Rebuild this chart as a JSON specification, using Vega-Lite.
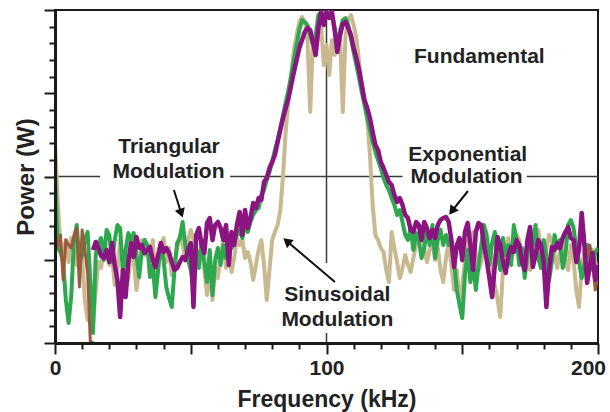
{
"$schema":"https://vega.github.io/schema/vega-lite/v6.json",
"width":543,"height":333,"autosize":"none",
"padding":{"left":55,"top":10,"right":12,"bottom":69},
"background":"white",
"config":{"view":{"stroke":"#1a1a1a","strokeWidth":2},"font":"Liberation Sans"},
"datasets":{
"spec":[
{"f":0,"s":"T","h":200},{"f":1,"s":"T","h":143},{"f":2,"s":"T","h":98},{"f":3,"s":"T","h":91},{"f":4,"s":"T","h":103},{"f":5,"s":"T","h":81},{"f":6,"s":"T","h":105},{"f":7,"s":"T","h":93},{"f":8,"s":"T","h":78},{"f":9,"s":"T","h":98},
{"f":10,"s":"T","h":85},{"f":11,"s":"T","h":43},{"f":12,"s":"T","h":23},{"f":13,"s":"T","h":33},{"f":14,"s":"T","h":18},{"f":15,"s":"T","h":53},{"f":16,"s":"T","h":81},{"f":17,"s":"T","h":75},{"f":18,"s":"T","h":98},{"f":19,"s":"T","h":93},
{"f":20,"s":"T","h":78},{"f":21,"s":"T","h":88},{"f":22,"s":"T","h":58},{"f":23,"s":"T","h":73},{"f":24,"s":"T","h":103},{"f":25,"s":"T","h":81},{"f":26,"s":"T","h":88},{"f":27,"s":"T","h":63},{"f":28,"s":"T","h":93},{"f":29,"s":"T","h":83},
{"f":30,"s":"T","h":53},{"f":31,"s":"T","h":73},{"f":32,"s":"T","h":103},{"f":33,"s":"T","h":88},{"f":34,"s":"T","h":98},{"f":35,"s":"T","h":81},{"f":36,"s":"T","h":103},{"f":37,"s":"T","h":65},{"f":38,"s":"T","h":83},{"f":39,"s":"T","h":93},
{"f":40,"s":"T","h":105},{"f":41,"s":"T","h":81},{"f":42,"s":"T","h":95},{"f":43,"s":"T","h":68},{"f":44,"s":"T","h":81},{"f":45,"s":"T","h":95},{"f":46,"s":"T","h":108},{"f":47,"s":"T","h":98},{"f":48,"s":"T","h":85},{"f":49,"s":"T","h":103},
{"f":50,"s":"T","h":113},{"f":51,"s":"T","h":103},{"f":52,"s":"T","h":75},{"f":53,"s":"T","h":88},{"f":54,"s":"T","h":98},{"f":55,"s":"T","h":73},{"f":56,"s":"T","h":48},{"f":57,"s":"T","h":78},{"f":58,"s":"T","h":43},{"f":59,"s":"T","h":75},
{"f":60,"s":"T","h":65},{"f":61,"s":"T","h":88},{"f":62,"s":"T","h":103},{"f":63,"s":"T","h":75},{"f":64,"s":"T","h":93},{"f":65,"s":"T","h":71},{"f":66,"s":"T","h":85},{"f":67,"s":"T","h":105},{"f":68,"s":"T","h":98},{"f":69,"s":"T","h":103},
{"f":70,"s":"T","h":85},{"f":71,"s":"T","h":91},{"f":72,"s":"T","h":81},{"f":73,"s":"T","h":63},{"f":74,"s":"T","h":78},{"f":75,"s":"T","h":93},{"f":76,"s":"T","h":103},{"f":77,"s":"T","h":78},{"f":78,"s":"T","h":43},{"f":79,"s":"T","h":73},
{"f":80,"s":"T","h":103},{"f":81,"s":"T","h":111},{"f":82,"s":"T","h":118},{"f":83,"s":"T","h":133},{"f":84,"s":"T","h":168},{"f":85,"s":"T","h":213},{"f":86,"s":"T","h":243},{"f":87,"s":"T","h":268},{"f":88,"s":"T","h":293},{"f":89,"s":"T","h":308},
{"f":90,"s":"T","h":321},{"f":91,"s":"T","h":326},{"f":92,"s":"T","h":321},{"f":93,"s":"T","h":303},{"f":94,"s":"T","h":231},{"f":95,"s":"T","h":303},{"f":96,"s":"T","h":288},{"f":97,"s":"T","h":308},{"f":98,"s":"T","h":318},{"f":99,"s":"T","h":278},
{"f":100,"s":"T","h":298},{"f":101,"s":"T","h":268},{"f":102,"s":"T","h":303},{"f":103,"s":"T","h":288},{"f":104,"s":"T","h":301},{"f":105,"s":"T","h":305},{"f":106,"s":"T","h":231},{"f":107,"s":"T","h":308},{"f":108,"s":"T","h":323},{"f":109,"s":"T","h":328},
{"f":110,"s":"T","h":318},{"f":111,"s":"T","h":305},{"f":112,"s":"T","h":281},{"f":113,"s":"T","h":258},{"f":114,"s":"T","h":243},{"f":115,"s":"T","h":225},{"f":116,"s":"T","h":188},{"f":117,"s":"T","h":138},{"f":118,"s":"T","h":108},{"f":119,"s":"T","h":103},
{"f":120,"s":"T","h":95},{"f":121,"s":"T","h":91},{"f":122,"s":"T","h":73},{"f":123,"s":"T","h":61},{"f":124,"s":"T","h":111},{"f":125,"s":"T","h":95},{"f":126,"s":"T","h":81},{"f":127,"s":"T","h":65},{"f":128,"s":"T","h":75},{"f":129,"s":"T","h":88},
{"f":130,"s":"T","h":78},{"f":131,"s":"T","h":71},{"f":132,"s":"T","h":85},{"f":133,"s":"T","h":98},{"f":134,"s":"T","h":108},{"f":135,"s":"T","h":115},{"f":136,"s":"T","h":95},{"f":137,"s":"T","h":81},{"f":138,"s":"T","h":93},{"f":139,"s":"T","h":103},
{"f":140,"s":"T","h":83},{"f":141,"s":"T","h":95},{"f":142,"s":"T","h":73},{"f":143,"s":"T","h":61},{"f":144,"s":"T","h":85},{"f":145,"s":"T","h":101},{"f":146,"s":"T","h":78},{"f":147,"s":"T","h":53},{"f":148,"s":"T","h":73},{"f":149,"s":"T","h":43},
{"f":150,"s":"T","h":58},{"f":151,"s":"T","h":83},{"f":152,"s":"T","h":103},{"f":153,"s":"T","h":93},{"f":154,"s":"T","h":111},{"f":155,"s":"T","h":88},{"f":156,"s":"T","h":73},{"f":157,"s":"T","h":81},{"f":158,"s":"T","h":103},{"f":159,"s":"T","h":93},
{"f":160,"s":"T","h":98},{"f":161,"s":"T","h":78},{"f":162,"s":"T","h":58},{"f":163,"s":"T","h":43},{"f":164,"s":"T","h":26},{"f":165,"s":"T","h":73},{"f":166,"s":"T","h":88},{"f":167,"s":"T","h":105},{"f":168,"s":"T","h":83},{"f":169,"s":"T","h":95},
{"f":170,"s":"T","h":108},{"f":171,"s":"T","h":103},{"f":172,"s":"T","h":81},{"f":173,"s":"T","h":88},{"f":174,"s":"T","h":98},{"f":175,"s":"T","h":73},{"f":176,"s":"T","h":85},{"f":177,"s":"T","h":101},{"f":178,"s":"T","h":113},{"f":179,"s":"T","h":93},
{"f":180,"s":"T","h":81},{"f":181,"s":"T","h":95},{"f":182,"s":"T","h":108},{"f":183,"s":"T","h":101},{"f":184,"s":"T","h":88},{"f":185,"s":"T","h":75},{"f":186,"s":"T","h":93},{"f":187,"s":"T","h":103},{"f":188,"s":"T","h":81},{"f":189,"s":"T","h":73},
{"f":190,"s":"T","h":98},{"f":191,"s":"T","h":83},{"f":192,"s":"T","h":53},{"f":193,"s":"T","h":36},{"f":194,"s":"T","h":75},{"f":195,"s":"T","h":93},{"f":196,"s":"T","h":78},{"f":197,"s":"T","h":85},{"f":198,"s":"T","h":93},{"f":199,"s":"T","h":81},
{"f":200,"s":"T","h":68},
{"f":0,"s":"G","h":171},{"f":1,"s":"G","h":95},{"f":2,"s":"G","h":91},{"f":3,"s":"G","h":81},{"f":4,"s":"G","h":43},{"f":5,"s":"G","h":20},{"f":6,"s":"G","h":48},{"f":7,"s":"G","h":103},{"f":8,"s":"G","h":118},{"f":9,"s":"G","h":81},
{"f":10,"s":"G","h":88},{"f":11,"s":"G","h":103},{"f":12,"s":"G","h":111},{"f":13,"s":"G","h":63},{"f":14,"s":"G","h":10},{"f":15,"s":"G","h":88},{"f":16,"s":"G","h":100},{"f":17,"s":"G","h":105},{"f":18,"s":"G","h":83},{"f":19,"s":"G","h":113},
{"f":20,"s":"G","h":108},{"f":21,"s":"G","h":81},{"f":22,"s":"G","h":103},{"f":23,"s":"G","h":118},{"f":24,"s":"G","h":115},{"f":25,"s":"G","h":70},{"f":26,"s":"G","h":93},{"f":27,"s":"G","h":110},{"f":28,"s":"G","h":103},{"f":29,"s":"G","h":110},
{"f":30,"s":"G","h":88},{"f":31,"s":"G","h":66},{"f":32,"s":"G","h":93},{"f":33,"s":"G","h":103},{"f":34,"s":"G","h":98},{"f":35,"s":"G","h":66},{"f":36,"s":"G","h":78},{"f":37,"s":"G","h":46},{"f":38,"s":"G","h":73},{"f":39,"s":"G","h":100},
{"f":40,"s":"G","h":83},{"f":41,"s":"G","h":56},{"f":42,"s":"G","h":45},{"f":43,"s":"G","h":36},{"f":44,"s":"G","h":73},{"f":45,"s":"G","h":100},{"f":46,"s":"G","h":105},{"f":47,"s":"G","h":121},{"f":48,"s":"G","h":98},{"f":49,"s":"G","h":83},
{"f":50,"s":"G","h":73},{"f":51,"s":"G","h":56},{"f":52,"s":"G","h":93},{"f":53,"s":"G","h":75},{"f":54,"s":"G","h":103},{"f":55,"s":"G","h":81},{"f":56,"s":"G","h":61},{"f":57,"s":"G","h":93},{"f":58,"s":"G","h":48},{"f":59,"s":"G","h":83},
{"f":60,"s":"G","h":95},{"f":61,"s":"G","h":78},{"f":62,"s":"G","h":98},{"f":63,"s":"G","h":85},{"f":64,"s":"G","h":105},{"f":65,"s":"G","h":95},{"f":66,"s":"G","h":103},{"f":67,"s":"G","h":108},{"f":68,"s":"G","h":113},{"f":69,"s":"G","h":105},
{"f":70,"s":"G","h":118},{"f":71,"s":"G","h":111},{"f":72,"s":"G","h":121},{"f":73,"s":"G","h":128},{"f":74,"s":"G","h":133},{"f":75,"s":"G","h":135},{"f":76,"s":"G","h":148},{"f":77,"s":"G","h":153},{"f":78,"s":"G","h":163},{"f":79,"s":"G","h":171},
{"f":80,"s":"G","h":181},{"f":81,"s":"G","h":193},{"f":82,"s":"G","h":203},{"f":83,"s":"G","h":215},{"f":84,"s":"G","h":228},{"f":85,"s":"G","h":241},{"f":86,"s":"G","h":253},{"f":87,"s":"G","h":268},{"f":88,"s":"G","h":283},{"f":89,"s":"G","h":298},
{"f":90,"s":"G","h":313},{"f":91,"s":"G","h":323},{"f":92,"s":"G","h":321},{"f":93,"s":"G","h":318},{"f":94,"s":"G","h":308},{"f":95,"s":"G","h":298},{"f":96,"s":"G","h":308},{"f":97,"s":"G","h":328},{"f":98,"s":"G","h":331},{"f":99,"s":"G","h":325},
{"f":100,"s":"G","h":333},{"f":101,"s":"G","h":328},{"f":102,"s":"G","h":329},{"f":103,"s":"G","h":315},{"f":104,"s":"G","h":295},{"f":105,"s":"G","h":313},{"f":106,"s":"G","h":323},{"f":107,"s":"G","h":325},{"f":108,"s":"G","h":318},{"f":109,"s":"G","h":305},
{"f":110,"s":"G","h":291},{"f":111,"s":"G","h":278},{"f":112,"s":"G","h":265},{"f":113,"s":"G","h":251},{"f":114,"s":"G","h":238},{"f":115,"s":"G","h":225},{"f":116,"s":"G","h":213},{"f":117,"s":"G","h":201},{"f":118,"s":"G","h":191},{"f":119,"s":"G","h":183},
{"f":120,"s":"G","h":175},{"f":121,"s":"G","h":165},{"f":122,"s":"G","h":158},{"f":123,"s":"G","h":153},{"f":124,"s":"G","h":145},{"f":125,"s":"G","h":138},{"f":126,"s":"G","h":128},{"f":127,"s":"G","h":133},{"f":128,"s":"G","h":121},{"f":129,"s":"G","h":108},
{"f":130,"s":"G","h":103},{"f":131,"s":"G","h":115},{"f":132,"s":"G","h":93},{"f":133,"s":"G","h":110},{"f":134,"s":"G","h":103},{"f":135,"s":"G","h":85},{"f":136,"s":"G","h":95},{"f":137,"s":"G","h":113},{"f":138,"s":"G","h":98},{"f":139,"s":"G","h":118},
{"f":140,"s":"G","h":85},{"f":141,"s":"G","h":103},{"f":142,"s":"G","h":113},{"f":143,"s":"G","h":98},{"f":144,"s":"G","h":108},{"f":145,"s":"G","h":98},{"f":146,"s":"G","h":103},{"f":147,"s":"G","h":81},{"f":148,"s":"G","h":53},{"f":149,"s":"G","h":38},
{"f":150,"s":"G","h":25},{"f":151,"s":"G","h":68},{"f":152,"s":"G","h":93},{"f":153,"s":"G","h":61},{"f":154,"s":"G","h":81},{"f":155,"s":"G","h":53},{"f":156,"s":"G","h":78},{"f":157,"s":"G","h":98},{"f":158,"s":"G","h":118},{"f":159,"s":"G","h":108},
{"f":160,"s":"G","h":78},{"f":161,"s":"G","h":100},{"f":162,"s":"G","h":111},{"f":163,"s":"G","h":88},{"f":164,"s":"G","h":73},{"f":165,"s":"G","h":105},{"f":166,"s":"G","h":88},{"f":167,"s":"G","h":98},{"f":168,"s":"G","h":78},{"f":169,"s":"G","h":118},
{"f":170,"s":"G","h":103},{"f":171,"s":"G","h":78},{"f":172,"s":"G","h":95},{"f":173,"s":"G","h":65},{"f":174,"s":"G","h":88},{"f":175,"s":"G","h":113},{"f":176,"s":"G","h":98},{"f":177,"s":"G","h":118},{"f":178,"s":"G","h":85},{"f":179,"s":"G","h":75},
{"f":180,"s":"G","h":103},{"f":181,"s":"G","h":88},{"f":182,"s":"G","h":63},{"f":183,"s":"G","h":81},{"f":184,"s":"G","h":108},{"f":185,"s":"G","h":95},{"f":186,"s":"G","h":103},{"f":187,"s":"G","h":75},{"f":188,"s":"G","h":88},{"f":189,"s":"G","h":118},
{"f":190,"s":"G","h":123},{"f":191,"s":"G","h":115},{"f":192,"s":"G","h":95},{"f":193,"s":"G","h":81},{"f":194,"s":"G","h":65},{"f":195,"s":"G","h":78},{"f":196,"s":"G","h":98},{"f":197,"s":"G","h":85},{"f":198,"s":"G","h":73},{"f":199,"s":"G","h":91},
{"f":200,"s":"G","h":95},
{"f":0,"s":"B","h":93},{"f":1,"s":"B","h":98},{"f":2,"s":"B","h":108},{"f":3,"s":"B","h":63},{"f":4,"s":"B","h":103},{"f":5,"s":"B","h":98},{"f":6,"s":"B","h":95},{"f":7,"s":"B","h":108},{"f":8,"s":"B","h":115},{"f":9,"s":"B","h":56},
{"f":10,"s":"B","h":113},{"f":11,"s":"B","h":93},{"f":12,"s":"B","h":70},{"f":13,"s":"B","h":2},{"f":14,"s":"B","h":0},
{"f":196,"s":"C","h":85},{"f":197,"s":"C","h":98},{"f":198,"s":"C","h":81},{"f":199,"s":"C","h":53},{"f":200,"s":"C","h":68},
{"f":14,"s":"P","h":93},{"f":15,"s":"P","h":101},{"f":16,"s":"P","h":95},{"f":17,"s":"P","h":87},{"f":18,"s":"P","h":85},{"f":19,"s":"P","h":93},{"f":20,"s":"P","h":81},{"f":21,"s":"P","h":100},{"f":22,"s":"P","h":78},{"f":23,"s":"P","h":63},
{"f":24,"s":"P","h":26},{"f":25,"s":"P","h":73},{"f":26,"s":"P","h":46},{"f":27,"s":"P","h":81},{"f":28,"s":"P","h":100},{"f":29,"s":"P","h":86},{"f":30,"s":"P","h":106},{"f":31,"s":"P","h":95},{"f":32,"s":"P","h":98},{"f":33,"s":"P","h":90},
{"f":34,"s":"P","h":93},{"f":35,"s":"P","h":96},{"f":36,"s":"P","h":83},{"f":37,"s":"P","h":76},{"f":38,"s":"P","h":88},{"f":39,"s":"P","h":100},{"f":40,"s":"P","h":91},{"f":41,"s":"P","h":95},{"f":42,"s":"P","h":90},{"f":43,"s":"P","h":81},
{"f":44,"s":"P","h":73},{"f":45,"s":"P","h":75},{"f":46,"s":"P","h":81},{"f":47,"s":"P","h":86},{"f":48,"s":"P","h":83},{"f":49,"s":"P","h":93},{"f":50,"s":"P","h":100},{"f":51,"s":"P","h":36},{"f":52,"s":"P","h":108},{"f":53,"s":"P","h":115},
{"f":54,"s":"P","h":98},{"f":55,"s":"P","h":90},{"f":56,"s":"P","h":120},{"f":57,"s":"P","h":125},{"f":58,"s":"P","h":103},{"f":59,"s":"P","h":118},{"f":60,"s":"P","h":121},{"f":61,"s":"P","h":115},{"f":62,"s":"P","h":103},{"f":63,"s":"P","h":118},
{"f":64,"s":"P","h":78},{"f":65,"s":"P","h":111},{"f":66,"s":"P","h":98},{"f":67,"s":"P","h":118},{"f":68,"s":"P","h":131},{"f":69,"s":"P","h":108},{"f":70,"s":"P","h":133},{"f":71,"s":"P","h":115},{"f":72,"s":"P","h":125},{"f":73,"s":"P","h":140},
{"f":74,"s":"P","h":135},{"f":75,"s":"P","h":145},{"f":76,"s":"P","h":143},{"f":77,"s":"P","h":161},{"f":78,"s":"P","h":165},{"f":79,"s":"P","h":175},{"f":80,"s":"P","h":181},{"f":81,"s":"P","h":188},{"f":82,"s":"P","h":201},{"f":83,"s":"P","h":213},
{"f":84,"s":"P","h":225},{"f":85,"s":"P","h":235},{"f":86,"s":"P","h":245},{"f":87,"s":"P","h":258},{"f":88,"s":"P","h":271},{"f":89,"s":"P","h":283},{"f":90,"s":"P","h":295},{"f":91,"s":"P","h":303},{"f":92,"s":"P","h":311},{"f":93,"s":"P","h":315},
{"f":94,"s":"P","h":313},{"f":95,"s":"P","h":301},{"f":96,"s":"P","h":288},{"f":97,"s":"P","h":315},{"f":98,"s":"P","h":331},{"f":99,"s":"P","h":318},{"f":100,"s":"P","h":331},{"f":101,"s":"P","h":325},{"f":102,"s":"P","h":331},{"f":103,"s":"P","h":313},
{"f":104,"s":"P","h":291},{"f":105,"s":"P","h":308},{"f":106,"s":"P","h":319},{"f":107,"s":"P","h":321},{"f":108,"s":"P","h":315},{"f":109,"s":"P","h":308},{"f":110,"s":"P","h":295},{"f":111,"s":"P","h":285},{"f":112,"s":"P","h":273},{"f":113,"s":"P","h":258},
{"f":114,"s":"P","h":243},{"f":115,"s":"P","h":235},{"f":116,"s":"P","h":225},{"f":117,"s":"P","h":211},{"f":118,"s":"P","h":198},{"f":119,"s":"P","h":193},{"f":120,"s":"P","h":181},{"f":121,"s":"P","h":175},{"f":122,"s":"P","h":168},{"f":123,"s":"P","h":161},
{"f":124,"s":"P","h":158},{"f":125,"s":"P","h":148},{"f":126,"s":"P","h":141},{"f":127,"s":"P","h":145},{"f":128,"s":"P","h":138},{"f":129,"s":"P","h":128},{"f":130,"s":"P","h":125},{"f":131,"s":"P","h":113},{"f":132,"s":"P","h":111},{"f":133,"s":"P","h":121},
{"f":134,"s":"P","h":118},{"f":135,"s":"P","h":103},{"f":136,"s":"P","h":121},{"f":137,"s":"P","h":115},{"f":138,"s":"P","h":105},{"f":139,"s":"P","h":113},{"f":140,"s":"P","h":105},{"f":141,"s":"P","h":118},{"f":142,"s":"P","h":123},{"f":143,"s":"P","h":125},
{"f":144,"s":"P","h":126},{"f":145,"s":"P","h":121},{"f":146,"s":"P","h":103},{"f":147,"s":"P","h":76},{"f":148,"s":"P","h":98},{"f":149,"s":"P","h":105},{"f":150,"s":"P","h":83},{"f":151,"s":"P","h":111},{"f":152,"s":"P","h":120},{"f":153,"s":"P","h":98},
{"f":154,"s":"P","h":73},{"f":155,"s":"P","h":111},{"f":156,"s":"P","h":120},{"f":157,"s":"P","h":118},{"f":158,"s":"P","h":98},{"f":159,"s":"P","h":83},{"f":160,"s":"P","h":65},{"f":161,"s":"P","h":46},{"f":162,"s":"P","h":78},{"f":163,"s":"P","h":106},
{"f":164,"s":"P","h":98},{"f":165,"s":"P","h":81},{"f":166,"s":"P","h":70},{"f":167,"s":"P","h":88},{"f":168,"s":"P","h":96},{"f":169,"s":"P","h":91},{"f":170,"s":"P","h":103},{"f":171,"s":"P","h":98},{"f":172,"s":"P","h":81},{"f":173,"s":"P","h":73},
{"f":174,"s":"P","h":103},{"f":175,"s":"P","h":116},{"f":176,"s":"P","h":76},{"f":177,"s":"P","h":88},{"f":178,"s":"P","h":103},{"f":179,"s":"P","h":98},{"f":180,"s":"P","h":81},{"f":181,"s":"P","h":36},{"f":182,"s":"P","h":73},{"f":183,"s":"P","h":96},
{"f":184,"s":"P","h":93},{"f":185,"s":"P","h":100},{"f":186,"s":"P","h":95},{"f":187,"s":"P","h":105},{"f":188,"s":"P","h":111},{"f":189,"s":"P","h":116},{"f":190,"s":"P","h":105},{"f":191,"s":"P","h":103},{"f":192,"s":"P","h":81},{"f":193,"s":"P","h":93},
{"f":194,"s":"P","h":130},{"f":195,"s":"P","h":98},{"f":196,"s":"P","h":60},{"f":197,"s":"P","h":78},{"f":198,"s":"P","h":90},{"f":199,"s":"P","h":63},{"f":200,"s":"P","h":78}
],
"seg":[
{"k":"g","f":0,"f2":16.6,"h":166.5,"h2":166.5},
{"k":"g","f":64.5,"f2":128,"h":166.5,"h2":166.5},
{"k":"g","f":173.8,"f2":200,"h":166.5,"h2":166.5},
{"k":"g","f":100,"f2":100,"h":80,"h2":333},
{"k":"g","f":100,"f2":100,"h":0,"h2":10},
{"k":"a","f":43.8,"f2":46.5,"h":153,"h2":129.7},
{"k":"a","f":103.1,"f2":85.4,"h":61,"h2":101.8},
{"k":"a","f":152.1,"f2":146.2,"h":152,"h2":132}
],
"heads":[
{"f":46.5,"h":129.7,"a":161},
{"f":85.4,"h":101.8,"a":310},
{"f":146.2,"h":132,"a":217}
],
"notes":[
{"f":156.3,"h":286,"t":"Fundamental"},
{"f":42,"h":196,"t":"Triangular"},
{"f":41.8,"h":171,"t":"Modulation"},
{"f":152,"h":188,"t":"Exponential"},
{"f":151.6,"h":166,"t":"Modulation"},
{"f":104,"h":48,"t":"Sinusoidal"},
{"f":104,"h":23,"t":"Modulation"}
]
},
"encoding":{
  "x":{"field":"f","type":"quantitative","scale":{"domain":[0,200],"nice":false},
   "axis":{"title":"Frequency (kHz)","values":[0,10,20,30,40,50,60,70,80,90,100,110,120,130,140,150,160,170,180,190,200],
    "labelExpr":"datum.value % 100 === 0 ? datum.label : ''",
    "labelOffset":{"condition":{"test":"datum.value === 200","value":-10},"value":0},
    "tickSize":{"condition":{"test":"datum.value % 50 === 0","value":11},"value":6},
    "tickWidth":2,"tickColor":"#1a1a1a","domainColor":"#1a1a1a","domainWidth":3,
    "labelFont":"Liberation Sans","labelFontSize":21,"labelFontWeight":"bold","labelColor":"#222","labelPadding":3,
    "labelOverlap":false,"labelBound":false,"labelFlush":false,
    "titleFont":"Liberation Sans","titleFontSize":23,"titleFontWeight":"bold","titleColor":"#222","titlePadding":10,
    "grid":false,"zindex":1}},
  "y":{"field":"h","type":"quantitative","scale":{"domain":[0,333],"nice":false},
   "axis":{"title":"Power (W)","values":[0,16.65,33.3,49.95,66.6,83.25,99.9,116.55,133.2,149.85,166.5,183.15,199.8,216.45,233.1,249.75,266.4,283.05,299.7,316.35,333],
    "labels":false,
    "tickSize":{"condition":{"test":"indexof([0,83.25,166.5,249.75,333], datum.value) >= 0","value":11},"value":6},
    "tickWidth":2,"tickColor":"#1a1a1a","domainColor":"#1a1a1a","domainWidth":3,
    "titleFont":"Liberation Sans","titleFontSize":24,"titleFontWeight":"bold","titleColor":"#222","titlePadding":5,
    "grid":false,"zindex":1}}
},
"layer":[
{"data":{"name":"seg"},"transform":[{"filter":"datum.k==='g'"}],
 "mark":{"type":"rule","color":"#3a3a3a","strokeWidth":1.5},
 "encoding":{"x2":{"field":"f2"},"y2":{"field":"h2"}}},
{"data":{"name":"spec"},"transform":[{"filter":"datum.s==='T'"}],
 "mark":{"type":"line","color":"#C9B991","strokeWidth":4,"clip":true,"strokeJoin":"round"}},
{"data":{"name":"spec"},"transform":[{"filter":"datum.s==='G'"}],
 "mark":{"type":"line","color":"#2EA84F","strokeWidth":4,"clip":true,"strokeJoin":"round"}},
{"data":{"name":"spec"},"transform":[{"filter":"datum.s==='B' || datum.s==='C'"}],
 "mark":{"type":"line","color":"#9C5A3C","strokeWidth":3,"clip":true,"strokeJoin":"round"},
 "encoding":{"detail":{"field":"s"}}},
{"data":{"name":"spec"},"transform":[{"filter":"datum.s==='P'"}],
 "mark":{"type":"line","color":"#8A1580","strokeWidth":4.5,"clip":true,"strokeJoin":"round"}},
{"data":{"name":"seg"},"transform":[{"filter":"datum.k==='a'"}],
 "mark":{"type":"rule","color":"#111","strokeWidth":2},
 "encoding":{"x2":{"field":"f2"},"y2":{"field":"h2"}}},
{"data":{"name":"heads"},
 "mark":{"type":"point","shape":"triangle-up","filled":true,"color":"#111","size":110,"opacity":1},
 "encoding":{"angle":{"field":"a","type":"quantitative","scale":null}}},
{"data":{"name":"notes"},
 "mark":{"type":"text","font":"Liberation Sans","fontSize":21,"fontWeight":"bold","color":"#222","align":"center","baseline":"middle"},
 "encoding":{"text":{"field":"t"}}}
]
}
